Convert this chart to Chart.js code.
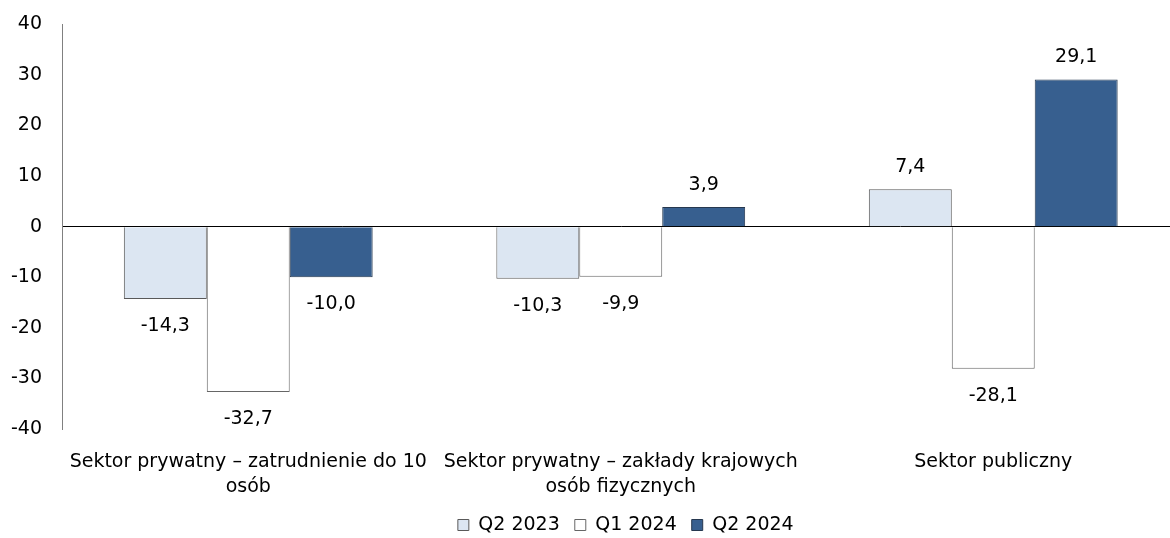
<!DOCTYPE html>
<html>
<head>
<meta charset="utf-8">
<script src="https://cdn.jsdelivr.net/npm/chart.js@4.4.1/dist/chart.umd.min.js"></script>
<style>
  html, body { margin: 0; padding: 0; background: #fff; overflow: hidden; }
  #wrap { position: relative; width: 1170px; height: 538px; overflow: hidden; }
  #SektorChart { display: block; margin-top: -7px; }
</style>
</head>
<body>
<div id="wrap"><canvas id="SektorChart" width="1212" height="552"></canvas></div>
<script>
// categories and series
const categories = [
  ['Sektor prywatny – zatrudnienie do 10', 'osób'],
  ['Sektor prywatny – zakłady krajowych', 'osób fizycznych'],
  'Sektor publiczny'
];
const seriesNames = ['Q2 2023', 'Q1 2024', 'Q2 2024'];
const q2_2023 = [-14.3, -10.3, 7.4];
const q1_2024 = [-32.7, -9.9, -28.1];
const q2_2024 = [-10.0, 3.9, 29.1];
const yTicks = [-40, -30, -20, -10, 0, 10, 20, 30, 40];

const FONT = '"DejaVu Sans", Verdana, sans-serif';
const FSIZE = 19;
Chart.defaults.font.family = FONT;
Chart.defaults.font.size = FSIZE;
Chart.defaults.color = '#000';

// value labels above / below each bar, with decimal comma
const barValues = {
  id: 'barValues',
  afterDatasetsDraw(chart) {
    const ctx = chart.ctx;
    ctx.save();
    ctx.font = FSIZE + 'px ' + FONT;
    ctx.fillStyle = '#000';
    ctx.textAlign = 'center';
    ctx.textBaseline = 'middle';
    chart.data.datasets.forEach((ds, i) => {
      chart.getDatasetMeta(i).data.forEach((bar, j) => {
        const v = ds.data[j];
        const txt = v.toFixed(1).replace('.', ',');
        const y = v >= 0 ? bar.y - 22 : bar.y + 27;
        ctx.fillText(txt, bar.x, y);
      });
    });
    ctx.restore();
  }
};

// legend sits centred under the whole plot, not the padded box
const legendShift = {
  id: 'legendShift',
  afterLayout(chart) {
    const lg = chart.legend;
    if (!lg) return;
    lg.left += 36;
    lg.right += 36;
  }
};

const ctx = document.getElementById('SektorChart').getContext('2d');
new Chart(ctx, {
  type: 'bar',
  data: {
    labels: categories,
    datasets: [
      { label: seriesNames[0], data: q2_2023, backgroundColor: '#dce6f2', borderColor: '#595959', borderWidth: 1 },
      { label: seriesNames[1], data: q1_2024, backgroundColor: '#ffffff', borderColor: '#666666', borderWidth: 1 },
      { label: seriesNames[2], data: q2_2024, backgroundColor: '#375f8f', borderColor: '#26384f', borderWidth: 1 }
    ]
  },
  options: {
    responsive: false,
    animation: false,
    layout: { padding: { top: 19.5, right: 32.5, left: 0, bottom: 0.5 } },
    datasets: { bar: { categoryPercentage: 0.668, barPercentage: 1.0 } },
    plugins: {
      legend: {
        position: 'bottom',
        labels: {
          boxWidth: 11,
          boxHeight: 11,
          padding: 15,
          color: '#000',
          font: { size: FSIZE, family: FONT }
        }
      },
      tooltip: { enabled: false }
    },
    scales: {
      x: {
        afterFit(axis) { axis.height = 71.5; },
        grid: { display: false, drawTicks: false },
        border: { display: false },
        ticks: { padding: 21, maxRotation: 0, autoSkip: false, color: '#000',
                 font: { size: FSIZE, lineHeight: 1.3 } }
      },
      y: {
        min: -40,
        max: 40,
        afterFit(axis) { axis.width = 62; },
        afterBuildTicks(axis) { axis.ticks = yTicks.map(v => ({ value: v })); },
        grid: {
          drawTicks: false,
          color: c => c.tick && c.tick.value === 0 ? '#000' : 'rgba(0,0,0,0)'
        },
        border: { display: true, color: '#808080', width: 1 },
        ticks: { padding: 20, color: '#000' }
      }
    }
  },
  plugins: [barValues, legendShift]
});
</script>
</body>
</html>
